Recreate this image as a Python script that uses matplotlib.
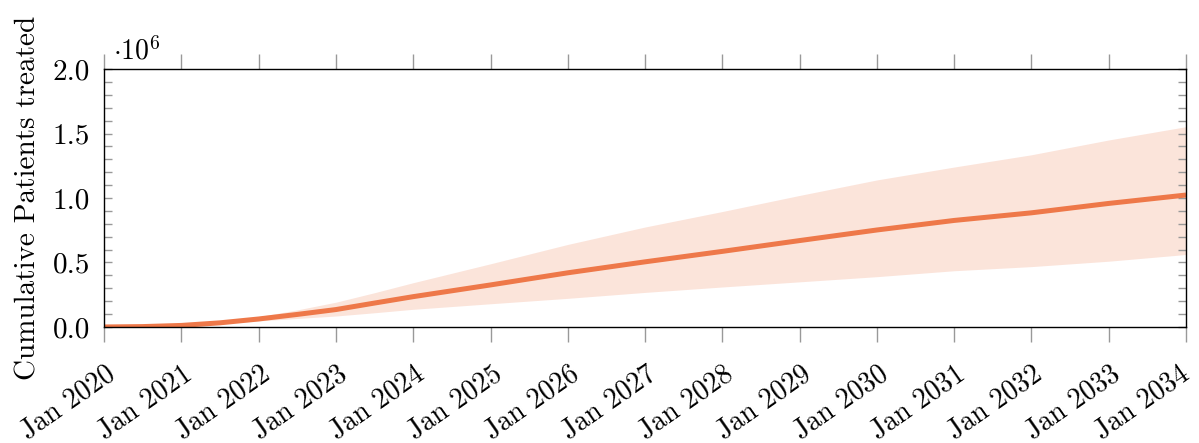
import datetime as dt
import matplotlib
matplotlib.use("Agg")
import matplotlib.pyplot as plt
import matplotlib.dates as mdates
import matplotlib.transforms as mtransforms
from matplotlib.ticker import MultipleLocator

plt.rcParams['font.family'] = ['cmr10', 'DejaVu Serif']
plt.rcParams['mathtext.fontset'] = 'cm'
plt.rcParams['axes.formatter.use_mathtext'] = True

# cumulative patients treated (millions), median and band
dates = [dt.date(2020, 1, 1), dt.date(2020, 7, 1), dt.date(2021, 1, 1), dt.date(2021, 7, 1),
         dt.date(2022, 1, 1), dt.date(2022, 7, 1), dt.date(2023, 1, 1), dt.date(2023, 7, 1),
         dt.date(2024, 1, 1), dt.date(2025, 1, 1), dt.date(2026, 1, 1), dt.date(2027, 1, 1),
         dt.date(2028, 1, 1), dt.date(2029, 1, 1), dt.date(2030, 1, 1), dt.date(2031, 1, 1),
         dt.date(2032, 1, 1), dt.date(2033, 1, 1), dt.date(2034, 1, 1)]
median = [0.0, 0.003, 0.012, 0.032, 0.062, 0.097, 0.135, 0.185,
          0.235, 0.326, 0.42, 0.505, 0.586, 0.67, 0.752, 0.826,
          0.885, 0.958, 1.023]
upper = [0.0, 0.003, 0.013, 0.036, 0.08, 0.132, 0.192, 0.265,
         0.343, 0.49, 0.64, 0.775, 0.895, 1.02, 1.14, 1.24,
         1.335, 1.45, 1.553]
lower = [0.0, 0.003, 0.011, 0.028, 0.047, 0.066, 0.085, 0.11,
         0.137, 0.18, 0.222, 0.268, 0.31, 0.35, 0.39, 0.436,
         0.468, 0.51, 0.562]

scale = 1e6
tick_years = list(range(2020, 2035))

orange = '#EE7849'

fig = plt.figure(figsize=(11.99, 4.43), dpi=100)
ax = fig.add_axes([0.0867, 0.2619, 0.9025, 0.5823])

ax.fill_between(dates, [v * scale for v in lower], [v * scale for v in upper],
                color=orange, alpha=0.2, linewidth=0)
ax.plot(dates, [v * scale for v in median], color=orange, linewidth=3.6,
        solid_capstyle='butt')

ax.set_xlim(dt.date(2020, 1, 1), dt.date(2034, 1, 1))
ax.set_ylim(0, 2.0e6)

ax.set_xticks([dt.date(y, 1, 1) for y in tick_years])
ax.xaxis.set_major_formatter(mdates.DateFormatter('Jan %Y'))
ax.yaxis.set_major_locator(MultipleLocator(0.5e6))
ax.yaxis.set_minor_locator(MultipleLocator(0.1e6))
ax.yaxis.set_major_formatter(plt.FuncFormatter(lambda v, p: '%.1f' % (v / scale)))

ax.tick_params(axis='x', which='major', direction='out', top=True, bottom=True,
               length=11, width=1, color='#999999', labelsize=20, pad=13)
ax.tick_params(axis='y', which='both', direction='in', left=True, right=True,
               length=6, width=1, color='#999999', labelsize=21, pad=10)

xlabels = ax.get_xticklabels()
for i, lbl in enumerate(xlabels):
    dx = 1 if i < len(xlabels) - 1 else -7  # keep the last one inside the figure
    lbl.set_rotation(35)
    lbl.set_ha('right')
    lbl.set_va('top')
    lbl.set_rotation_mode('anchor')
    lbl.set_transform(lbl.get_transform() +
                      mtransforms.ScaledTranslation(dx / 100, 0, fig.dpi_scale_trans))

for s in ax.spines.values():
    s.set_linewidth(1.0)
    s.set_color('black')

ax.set_ylabel('Cumulative Patients treated', fontsize=21, labelpad=8)
ax.text(0.008, 1.015, r'$\cdot 10^6$', transform=ax.transAxes, fontsize=20,
        ha='left', va='bottom')

fig.savefig('out.png', dpi=100)
